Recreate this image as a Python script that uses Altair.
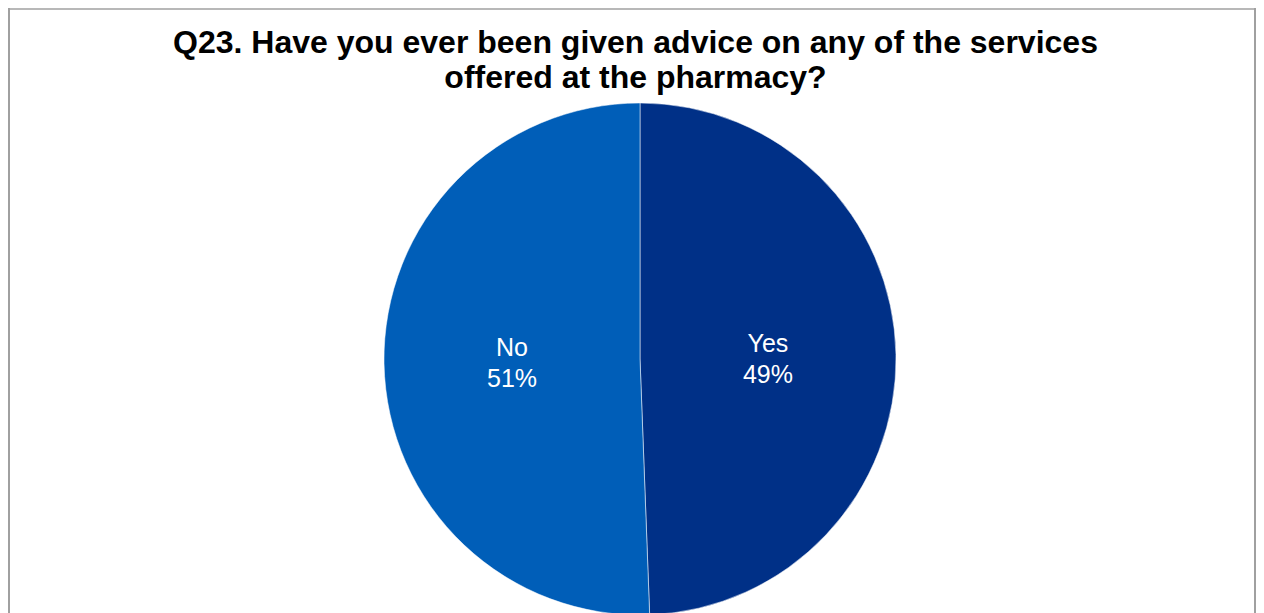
import altair as alt
import pandas as pd

categories = ["Yes", "No"]
values = [49.4, 50.6]
labels = ["Yes\n49%", "No\n51%"]
colors = ["#003087", "#005EB8"]
title_text = "Q23. Have you ever been given advice on any of the services\noffered at the pharmacy?"

df = pd.DataFrame({
    "category": categories,
    "value": values,
    "label": labels,
    "idx": list(range(len(categories))),
})

W, H = 1248, 605
cx, cy = 632, 351
border_color = "#a0a0a0"

base = alt.Chart(df).encode(
    theta=alt.Theta("value:Q", stack=True),
    order=alt.Order("idx:Q"),
)

arcs = base.mark_arc(outerRadius=256, stroke="#ffffff", strokeWidth=1, strokeOpacity=0.5).encode(
    color=alt.Color("category:N", scale=alt.Scale(domain=categories, range=colors), legend=None),
    x=alt.value(cx),
    y=alt.value(cy),
)

texts = base.mark_text(
    radius=128, fontSize=25, font="Liberation Sans", color="white",
    lineBreak="\n", lineHeight=31, baseline="middle", align="center", dy=-13,
).encode(
    text="label:N",
    x=alt.value(cx),
    y=alt.value(cy),
)

title = alt.Chart(pd.DataFrame({"t": [title_text]})).mark_text(
    fontSize=32, font="Liberation Sans", fontWeight="bold", color="black",
    lineBreak="\n", lineHeight=35, baseline="alphabetic", align="center",
).encode(
    text="t:N",
    x=alt.value(627.5),
    y=alt.value(45),
)

border_df = pd.DataFrame({"side": ["left", "top", "right"]})
left = alt.Chart(border_df.iloc[[0]]).mark_rule(color=border_color, strokeWidth=2).encode(
    x=alt.value(1), y=alt.value(0), y2=alt.value(H)
)
top = alt.Chart(border_df.iloc[[1]]).mark_rule(color=border_color, strokeWidth=1.5).encode(
    x=alt.value(0), x2=alt.value(W), y=alt.value(1)
)
right = alt.Chart(border_df.iloc[[2]]).mark_rule(color=border_color, strokeWidth=2).encode(
    x=alt.value(W - 1), y=alt.value(0), y2=alt.value(H)
)

chart = alt.layer(arcs, texts, title, left, top, right).properties(
    width=W, height=H,
    autosize=alt.AutoSizeParams(type="none"),
    padding=0,
).configure_view(stroke=None)

chart.save("out.html", embed_options={"renderer": "svg", "actions": False})
